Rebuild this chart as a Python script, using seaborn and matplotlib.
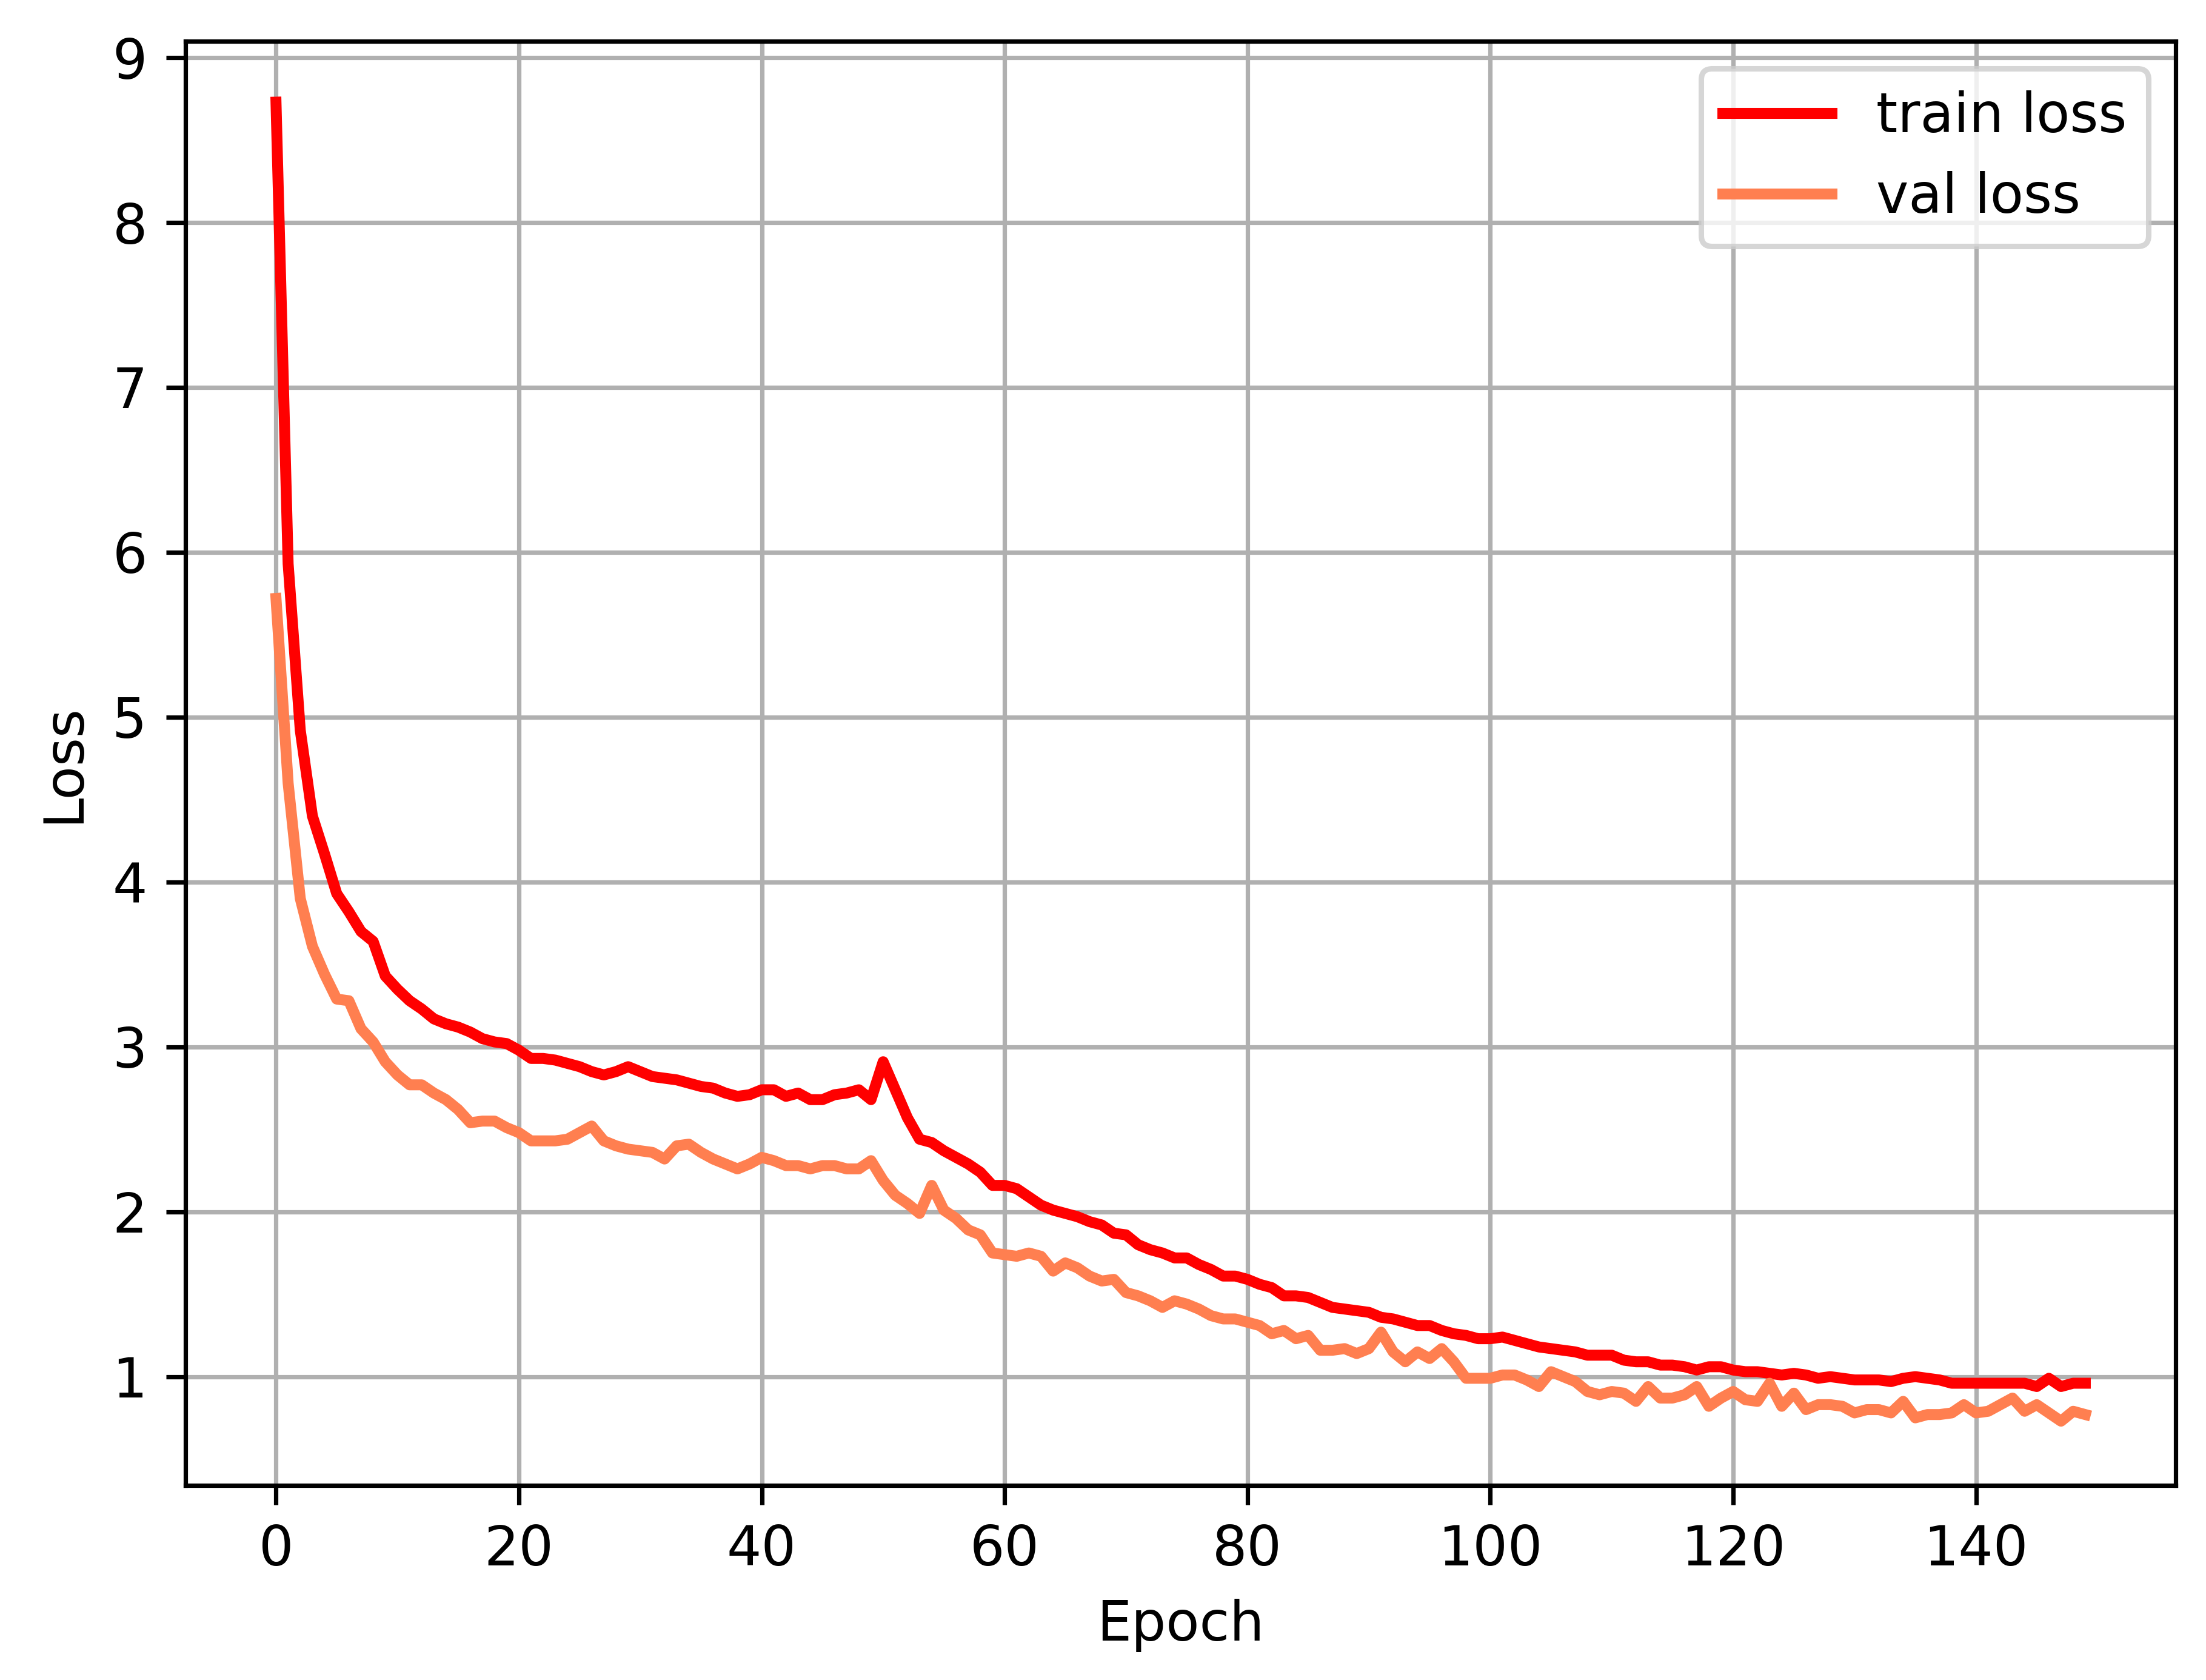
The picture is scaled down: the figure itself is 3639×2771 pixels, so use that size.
import numpy as np
import pandas as pd
import seaborn as sns
import matplotlib.pyplot as plt

# Loss values per epoch
epochs = np.arange(150)

train_loss = [
    8.73, 5.93, 4.92, 4.40, 4.17, 3.93, 3.82, 3.70, 3.64, 3.43,
    3.35, 3.28, 3.23, 3.17, 3.14, 3.12, 3.09, 3.05, 3.03, 3.02,
    2.98, 2.93, 2.93, 2.92, 2.90, 2.88, 2.85, 2.83, 2.85, 2.88,
    2.85, 2.82, 2.81, 2.80, 2.78, 2.76, 2.75, 2.72, 2.70, 2.71,
    2.74, 2.74, 2.70, 2.72, 2.68, 2.68, 2.71, 2.72, 2.74, 2.68,
    2.91, 2.74, 2.57, 2.44, 2.42, 2.37, 2.33, 2.29, 2.24, 2.16,
    2.16, 2.14, 2.09, 2.04, 2.01, 1.99, 1.97, 1.94, 1.92, 1.87,
    1.86, 1.80, 1.77, 1.75, 1.72, 1.72, 1.68, 1.65, 1.61, 1.61,
    1.59, 1.56, 1.54, 1.49, 1.49, 1.48, 1.45, 1.42, 1.41, 1.40,
    1.39, 1.36, 1.35, 1.33, 1.31, 1.31, 1.28, 1.26, 1.25, 1.23,
    1.23, 1.24, 1.22, 1.20, 1.18, 1.17, 1.16, 1.15, 1.13, 1.13,
    1.13, 1.10, 1.09, 1.09, 1.07, 1.07, 1.06, 1.04, 1.06, 1.06,
    1.04, 1.03, 1.03, 1.02, 1.01, 1.02, 1.01, 0.99, 1.00, 0.99,
    0.98, 0.98, 0.98, 0.97, 0.99, 1.00, 0.99, 0.98, 0.96, 0.96,
    0.96, 0.96, 0.96, 0.96, 0.96, 0.94, 0.99, 0.94, 0.96, 0.96,
]

val_loss = [
    5.72, 4.60, 3.90, 3.61, 3.44, 3.29, 3.28, 3.11, 3.03, 2.91,
    2.83, 2.77, 2.77, 2.72, 2.68, 2.62, 2.54, 2.55, 2.55, 2.51,
    2.48, 2.43, 2.43, 2.43, 2.44, 2.48, 2.52, 2.43, 2.40, 2.38,
    2.37, 2.36, 2.32, 2.40, 2.41, 2.36, 2.32, 2.29, 2.26, 2.29,
    2.33, 2.31, 2.28, 2.28, 2.26, 2.28, 2.28, 2.26, 2.26, 2.31,
    2.19, 2.10, 2.05, 1.99, 2.16, 2.01, 1.96, 1.89, 1.86, 1.75,
    1.74, 1.73, 1.75, 1.73, 1.64, 1.69, 1.66, 1.61, 1.58, 1.59,
    1.51, 1.49, 1.46, 1.42, 1.46, 1.44, 1.41, 1.37, 1.35, 1.35,
    1.33, 1.31, 1.26, 1.28, 1.23, 1.25, 1.16, 1.16, 1.17, 1.14,
    1.17, 1.27, 1.15, 1.09, 1.15, 1.11, 1.17, 1.09, 0.99, 0.99,
    0.99, 1.01, 1.01, 0.98, 0.94, 1.03, 1.00, 0.97, 0.91, 0.89,
    0.91, 0.90, 0.85, 0.94, 0.87, 0.87, 0.89, 0.94, 0.82, 0.87,
    0.91, 0.86, 0.85, 0.96, 0.82, 0.90, 0.80, 0.83, 0.83, 0.82,
    0.78, 0.80, 0.80, 0.78, 0.85, 0.75, 0.77, 0.77, 0.78, 0.83,
    0.78, 0.79, 0.83, 0.87, 0.79, 0.83, 0.78, 0.73, 0.79, 0.77,
]

x_ticks = [0, 20, 40, 60, 80, 100, 120, 140]
y_ticks = [1, 2, 3, 4, 5, 6, 7, 8, 9]

data = pd.DataFrame({'Epoch': epochs, 'train': train_loss, 'val': val_loss})

# Figure setup (plain matplotlib look, 10pt text)
plt.rcParams['font.family'] = ['DejaVu Sans']
plt.rcParams['font.size'] = 10

fig, ax = plt.subplots(figsize=(3639 / 650, 2771 / 650), dpi=650)
fig.subplots_adjust(left=0.0841, right=0.9863, top=0.9755, bottom=0.1158)

sns.lineplot(data=data, x='Epoch', y='train', color='red', linewidth=2,
             label='train loss', ax=ax)
sns.lineplot(data=data, x='Epoch', y='val', color='coral', linewidth=2,
             label='val loss', ax=ax)

ax.set_xlim(-7.45, 156.45)
ax.set_ylim(0.34, 9.1)
ax.set_xticks(x_ticks)
ax.set_yticks(y_ticks)
ax.grid(True, color='#b0b0b0', linewidth=0.8)
ax.set_axisbelow(True)
ax.set_xlabel('Epoch')
ax.set_ylabel('Loss')
ax.legend(loc='upper right')

fig.savefig('out.png', dpi=650)
